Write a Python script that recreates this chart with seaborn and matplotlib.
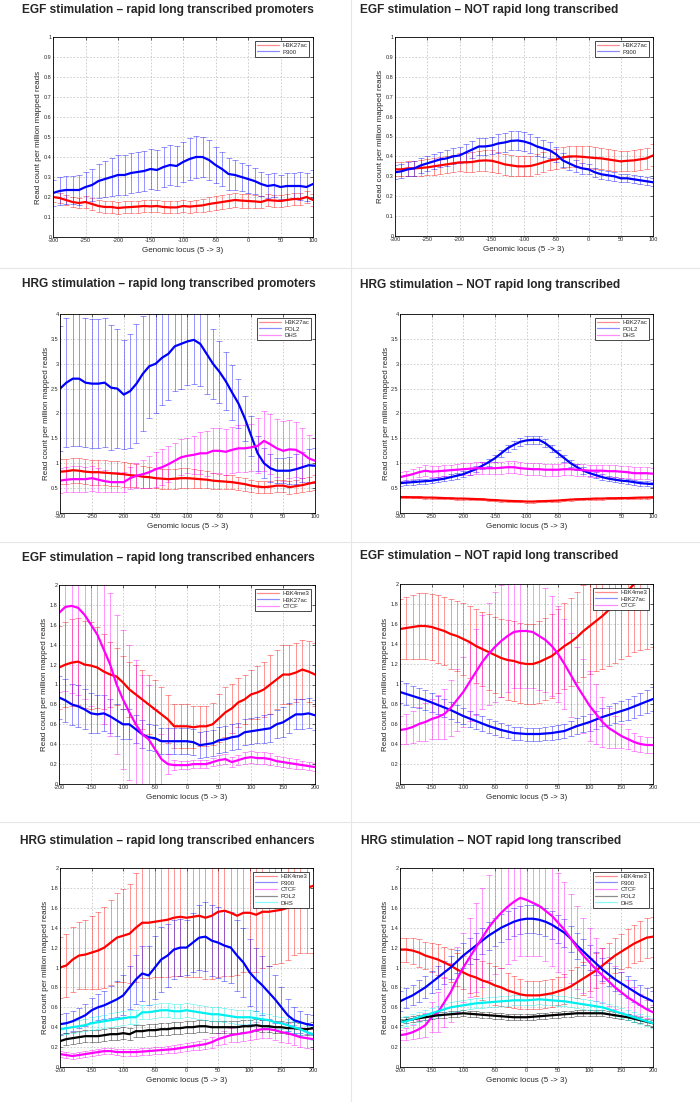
import numpy as np
import matplotlib
matplotlib.use("Agg")
import matplotlib.pyplot as plt
import seaborn as sns
from matplotlib.lines import Line2D
from matplotlib.ticker import FormatStrFormatter

sns.set_style("white")
plt.rcParams['font.family'] = ['Liberation Sans', 'DejaVu Sans']
plt.rcParams['axes.unicode_minus'] = False

# positions (bp) - promoters and enhancers
x_prom = np.arange(-300, 101, 10)
x_enh = np.arange(-200, 201, 10)

# --- EGF, rapid long transcribed promoters
p1_h3k27ac = [0.20, 0.195, 0.185, 0.175, 0.17, 0.175, 0.165, 0.155, 0.15, 0.15, 0.145, 0.148, 0.15, 0.152,
              0.155, 0.153, 0.155, 0.15, 0.148, 0.148, 0.155, 0.152, 0.155, 0.158, 0.165, 0.17, 0.175, 0.18,
              0.185, 0.182, 0.18, 0.178, 0.175, 0.185, 0.182, 0.18, 0.185, 0.19, 0.19, 0.20, 0.185]
p1_h3k27ac_err = [0.025, 0.025, 0.025, 0.025, 0.025, 0.028, 0.028, 0.028, 0.028, 0.028, 0.03, 0.03, 0.03, 0.03,
                  0.03, 0.03, 0.03, 0.03, 0.03, 0.03, 0.03, 0.03, 0.032, 0.033, 0.035, 0.035, 0.035, 0.035,
                  0.035, 0.035, 0.035, 0.033, 0.032, 0.03, 0.03, 0.03, 0.03, 0.03, 0.03, 0.03, 0.03]
p1_p300 = [0.22, 0.23, 0.235, 0.235, 0.235, 0.25, 0.26, 0.28, 0.29, 0.30, 0.31, 0.31, 0.32, 0.325,
           0.33, 0.34, 0.335, 0.35, 0.36, 0.355, 0.375, 0.39, 0.40, 0.40, 0.385, 0.36, 0.34, 0.315,
           0.31, 0.30, 0.29, 0.28, 0.265, 0.255, 0.26, 0.25, 0.255, 0.255, 0.255, 0.25, 0.265]
p1_p300_err = [0.065, 0.07, 0.07, 0.07, 0.075, 0.075, 0.08, 0.085, 0.09, 0.095, 0.1, 0.1, 0.1, 0.1,
               0.1, 0.1, 0.1, 0.1, 0.1, 0.1, 0.1, 0.105, 0.105, 0.1, 0.1, 0.09, 0.085, 0.08,
               0.075, 0.07, 0.07, 0.065, 0.06, 0.06, 0.06, 0.06, 0.065, 0.065, 0.07, 0.07, 0.07]

# --- EGF, NOT rapid long transcribed promoters
p2_h3k27ac = [0.335, 0.335, 0.34, 0.34, 0.342, 0.345, 0.35, 0.355, 0.36, 0.365, 0.37, 0.37, 0.372, 0.378,
              0.38, 0.378, 0.37, 0.36, 0.355, 0.35, 0.35, 0.352, 0.36, 0.37, 0.38, 0.385, 0.395, 0.40,
              0.40, 0.398, 0.395, 0.392, 0.39, 0.385, 0.38, 0.375, 0.378, 0.38, 0.385, 0.39, 0.405]
p2_h3k27ac_err = [0.035, 0.035, 0.036, 0.037, 0.038, 0.04, 0.041, 0.042, 0.043, 0.044, 0.045, 0.047, 0.049, 0.051,
                  0.053, 0.055, 0.054, 0.053, 0.052, 0.051, 0.05, 0.05, 0.05, 0.05, 0.05, 0.05, 0.051, 0.052,
                  0.053, 0.054, 0.055, 0.054, 0.053, 0.052, 0.051, 0.05, 0.051, 0.052, 0.053, 0.054, 0.055]
p2_p300 = [0.32, 0.325, 0.335, 0.34, 0.355, 0.365, 0.375, 0.385, 0.39, 0.40, 0.405, 0.42, 0.435, 0.45,
           0.45, 0.455, 0.465, 0.47, 0.478, 0.48, 0.475, 0.465, 0.45, 0.44, 0.43, 0.41, 0.38, 0.365,
           0.35, 0.34, 0.335, 0.32, 0.31, 0.305, 0.30, 0.29, 0.29, 0.285, 0.28, 0.275, 0.27]
p2_p300_err = [0.035, 0.035, 0.036, 0.036, 0.037, 0.038, 0.038, 0.039, 0.04, 0.04, 0.04, 0.041, 0.042, 0.043,
               0.044, 0.045, 0.046, 0.047, 0.048, 0.05, 0.05, 0.048, 0.046, 0.044, 0.04, 0.037, 0.035, 0.032,
               0.03, 0.028, 0.025, 0.024, 0.023, 0.022, 0.022, 0.021, 0.021, 0.02, 0.02, 0.02, 0.02]

# --- HRG, rapid long transcribed promoters
p3_h3k27ac = [0.83, 0.84, 0.86, 0.85, 0.83, 0.82, 0.82, 0.81, 0.80, 0.79, 0.78, 0.76, 0.75, 0.73,
              0.72, 0.70, 0.69, 0.68, 0.69, 0.70, 0.70, 0.69, 0.68, 0.67, 0.65, 0.64, 0.63, 0.62,
              0.60, 0.58, 0.55, 0.53, 0.52, 0.53, 0.55, 0.55, 0.52, 0.54, 0.56, 0.59, 0.62]
p3_h3k27ac_err = [0.25, 0.25, 0.25, 0.25, 0.25, 0.25, 0.25, 0.25, 0.25, 0.25, 0.25, 0.24, 0.23, 0.22,
                  0.21, 0.20, 0.20, 0.20, 0.20, 0.20, 0.20, 0.19, 0.18, 0.17, 0.16, 0.15, 0.14, 0.14,
                  0.13, 0.13, 0.12, 0.12, 0.12, 0.12, 0.12, 0.12, 0.13, 0.13, 0.14, 0.14, 0.15]
p3_pol2 = [2.50, 2.62, 2.70, 2.70, 2.62, 2.60, 2.60, 2.62, 2.52, 2.50, 2.38, 2.45, 2.60, 2.80,
           2.95, 3.00, 3.12, 3.20, 3.35, 3.40, 3.45, 3.48, 3.40, 3.20, 3.00, 2.84, 2.65, 2.42,
           2.20, 1.90, 1.55, 1.20, 1.00, 0.90, 0.85, 0.85, 0.85, 0.88, 0.92, 0.96, 0.95]
p3_pol2_err = [1.25, 1.30, 1.35, 1.35, 1.30, 1.30, 1.30, 1.30, 1.25, 1.20, 1.10, 1.15, 1.20, 1.15,
               1.05, 1.00, 0.95, 0.92, 0.90, 0.90, 0.88, 0.88, 0.85, 0.80, 0.70, 0.62, 0.58, 0.55,
               0.50, 0.45, 0.40, 0.35, 0.30, 0.28, 0.25, 0.25, 0.27, 0.30, 0.30, 0.33, 0.35]
p3_dhs = [0.65, 0.67, 0.68, 0.68, 0.68, 0.70, 0.67, 0.64, 0.62, 0.62, 0.62, 0.70, 0.75, 0.78,
          0.82, 0.88, 0.92, 0.98, 1.05, 1.12, 1.15, 1.17, 1.20, 1.20, 1.25, 1.25, 1.23, 1.27,
          1.30, 1.30, 1.32, 1.35, 1.45, 1.38, 1.30, 1.25, 1.28, 1.27, 1.20, 1.10, 1.05]
p3_dhs_err = [0.25, 0.25, 0.26, 0.26, 0.25, 0.25, 0.24, 0.22, 0.20, 0.20, 0.20, 0.22, 0.25, 0.28,
              0.32, 0.35, 0.36, 0.36, 0.36, 0.36, 0.35, 0.38, 0.42, 0.45, 0.45, 0.45, 0.46, 0.46,
              0.47, 0.47, 0.47, 0.55, 0.60, 0.60, 0.58, 0.60, 0.58, 0.55, 0.50, 0.47, 0.45]

# --- HRG, NOT rapid long transcribed promoters
p4_h3k27ac = [0.32, 0.32, 0.315, 0.315, 0.31, 0.31, 0.305, 0.30, 0.295, 0.29, 0.29, 0.285, 0.28, 0.275,
              0.265, 0.26, 0.25, 0.245, 0.24, 0.235, 0.23, 0.23, 0.235, 0.24, 0.245, 0.25, 0.26, 0.27,
              0.275, 0.28, 0.285, 0.29, 0.29, 0.295, 0.295, 0.30, 0.30, 0.305, 0.31, 0.31, 0.315]
p4_h3k27ac_err = [0.02] * 41
p4_pol2 = [0.60, 0.61, 0.62, 0.63, 0.64, 0.65, 0.67, 0.69, 0.72, 0.75, 0.78, 0.83, 0.88, 0.95,
           1.02, 1.10, 1.20, 1.30, 1.37, 1.43, 1.46, 1.47, 1.47, 1.40, 1.30, 1.20, 1.10, 1.00,
           0.92, 0.85, 0.80, 0.76, 0.72, 0.69, 0.67, 0.65, 0.64, 0.62, 0.60, 0.59, 0.58]
p4_pol2_err = [0.05, 0.05, 0.05, 0.05, 0.05, 0.05, 0.055, 0.055, 0.06, 0.06, 0.06, 0.065, 0.065, 0.07,
               0.07, 0.07, 0.075, 0.075, 0.08, 0.08, 0.08, 0.08, 0.08, 0.08, 0.075, 0.075, 0.07, 0.07,
               0.065, 0.065, 0.06, 0.06, 0.06, 0.055, 0.055, 0.05, 0.05, 0.05, 0.05, 0.05, 0.05]
p4_dhs = [0.72, 0.75, 0.78, 0.82, 0.85, 0.83, 0.84, 0.85, 0.86, 0.87, 0.88, 0.89, 0.90, 0.90,
          0.90, 0.90, 0.91, 0.92, 0.92, 0.90, 0.89, 0.88, 0.88, 0.87, 0.87, 0.87, 0.88, 0.88,
          0.87, 0.86, 0.85, 0.85, 0.85, 0.84, 0.84, 0.83, 0.82, 0.80, 0.80, 0.80, 0.79]
p4_dhs_err = [0.10, 0.10, 0.10, 0.10, 0.11, 0.11, 0.11, 0.11, 0.11, 0.11, 0.12, 0.12, 0.12, 0.12,
              0.12, 0.12, 0.12, 0.12, 0.12, 0.12, 0.12, 0.12, 0.12, 0.12, 0.12, 0.12, 0.12, 0.12,
              0.12, 0.12, 0.12, 0.12, 0.12, 0.12, 0.12, 0.12, 0.12, 0.12, 0.12, 0.12, 0.12]

# --- EGF, rapid long transcribed enhancers
p5_h3k4me3 = [1.17, 1.20, 1.22, 1.23, 1.20, 1.19, 1.17, 1.13, 1.10, 1.08, 1.02, 0.95, 0.90, 0.85,
              0.80, 0.75, 0.70, 0.65, 0.58, 0.58, 0.58, 0.57, 0.58, 0.58, 0.60, 0.66, 0.72, 0.76,
              0.82, 0.85, 0.90, 0.92, 0.95, 1.00, 1.05, 1.10, 1.10, 1.12, 1.15, 1.13, 1.10]
p5_h3k4me3_err = [0.42, 0.43, 0.44, 0.44, 0.44, 0.44, 0.41, 0.38, 0.33, 0.29, 0.27, 0.28, 0.30, 0.30,
                  0.30, 0.30, 0.27, 0.24, 0.22, 0.22, 0.22, 0.21, 0.20, 0.20, 0.21, 0.24, 0.25, 0.25,
                  0.25, 0.25, 0.25, 0.27, 0.28, 0.30, 0.30, 0.30, 0.30, 0.30, 0.30, 0.31, 0.32]
p5_h3k27ac = [0.87, 0.84, 0.80, 0.78, 0.75, 0.71, 0.70, 0.71, 0.68, 0.64, 0.60, 0.60, 0.55, 0.50,
              0.47, 0.46, 0.43, 0.43, 0.43, 0.43, 0.43, 0.42, 0.39, 0.40, 0.41, 0.44, 0.45, 0.47,
              0.48, 0.52, 0.53, 0.54, 0.55, 0.56, 0.60, 0.62, 0.66, 0.70, 0.70, 0.71, 0.69]
p5_h3k27ac_err = [0.22, 0.22, 0.21, 0.21, 0.20, 0.20, 0.19, 0.18, 0.17, 0.16, 0.15, 0.15, 0.14, 0.14,
                  0.13, 0.13, 0.13, 0.13, 0.13, 0.13, 0.13, 0.13, 0.13, 0.13, 0.13, 0.13, 0.13, 0.13,
                  0.13, 0.13, 0.13, 0.13, 0.14, 0.14, 0.14, 0.15, 0.15, 0.15, 0.15, 0.15, 0.15]
p5_ctcf = [1.72, 1.78, 1.79, 1.77, 1.70, 1.60, 1.50, 1.35, 1.20, 1.00, 0.85, 0.72, 0.60, 0.50,
           0.45, 0.35, 0.25, 0.20, 0.19, 0.19, 0.19, 0.20, 0.20, 0.20, 0.22, 0.24, 0.25, 0.22,
           0.24, 0.26, 0.27, 0.26, 0.26, 0.25, 0.23, 0.22, 0.21, 0.20, 0.19, 0.18, 0.17]
p5_ctcf_err = [0.80, 0.85, 0.88, 0.88, 0.85, 0.82, 0.80, 0.75, 0.72, 0.70, 0.70, 0.68, 0.65, 0.60,
               0.55, 0.40, 0.25, 0.10, 0.05, 0.04, 0.04, 0.04, 0.04, 0.04, 0.04, 0.05, 0.05, 0.05,
               0.05, 0.06, 0.06, 0.06, 0.06, 0.06, 0.05, 0.05, 0.05, 0.05, 0.04, 0.04, 0.04]

# --- EGF, NOT rapid long transcribed enhancers
p6_h3k4me3 = [1.55, 1.56, 1.57, 1.58, 1.58, 1.57, 1.55, 1.53, 1.50, 1.48, 1.45, 1.42, 1.38, 1.35,
              1.32, 1.29, 1.26, 1.24, 1.23, 1.21, 1.20, 1.20, 1.22, 1.25, 1.28, 1.33, 1.38, 1.42,
              1.47, 1.53, 1.58, 1.63, 1.68, 1.74, 1.80, 1.87, 1.93, 2.00, 2.05, 2.10, 2.15]
p6_h3k4me3_err = [0.30, 0.31, 0.32, 0.33, 0.33, 0.33, 0.34, 0.34, 0.35, 0.35, 0.36, 0.36, 0.37, 0.37,
                  0.38, 0.38, 0.39, 0.40, 0.40, 0.40, 0.40, 0.40, 0.41, 0.41, 0.42, 0.42, 0.43, 0.44,
                  0.45, 0.46, 0.48, 0.50, 0.53, 0.56, 0.59, 0.62, 0.65, 0.68, 0.71, 0.75, 0.78]
p6_h3k27ac = [0.92, 0.90, 0.88, 0.86, 0.84, 0.815, 0.79, 0.765, 0.74, 0.71, 0.68, 0.655, 0.63, 0.605,
              0.58, 0.56, 0.54, 0.525, 0.51, 0.505, 0.50, 0.50, 0.50, 0.505, 0.51, 0.52, 0.53, 0.555,
              0.58, 0.60, 0.62, 0.645, 0.67, 0.69, 0.71, 0.73, 0.75, 0.775, 0.80, 0.825, 0.85]
p6_h3k27ac_err = [0.11, 0.11, 0.105, 0.10, 0.10, 0.095, 0.09, 0.09, 0.085, 0.085, 0.08, 0.08, 0.075, 0.075,
                  0.07, 0.07, 0.07, 0.065, 0.065, 0.065, 0.065, 0.065, 0.065, 0.065, 0.07, 0.07, 0.07, 0.075,
                  0.08, 0.08, 0.085, 0.09, 0.09, 0.095, 0.10, 0.10, 0.105, 0.11, 0.11, 0.115, 0.12]
p6_ctcf = [0.54, 0.55, 0.57, 0.60, 0.62, 0.65, 0.67, 0.70, 0.76, 0.84, 0.92, 1.02, 1.12, 1.22,
           1.30, 1.37, 1.43, 1.48, 1.52, 1.53, 1.53, 1.52, 1.48, 1.44, 1.38, 1.30, 1.20, 1.09,
           0.98, 0.88, 0.78, 0.70, 0.62, 0.56, 0.52, 0.48, 0.45, 0.42, 0.40, 0.39, 0.39]
p6_ctcf_err = [0.14, 0.15, 0.16, 0.17, 0.19, 0.20, 0.22, 0.25, 0.28, 0.31, 0.35, 0.39, 0.43, 0.47,
               0.51, 0.55, 0.56, 0.56, 0.56, 0.57, 0.57, 0.56, 0.54, 0.52, 0.50, 0.48, 0.45, 0.42,
               0.39, 0.37, 0.35, 0.30, 0.25, 0.20, 0.16, 0.12, 0.10, 0.09, 0.08, 0.08, 0.08]

# --- HRG, rapid long transcribed enhancers
p7_h3k4me3 = [1.00, 1.02, 1.08, 1.12, 1.13, 1.15, 1.17, 1.20, 1.25, 1.30, 1.32, 1.34, 1.40, 1.45,
              1.45, 1.46, 1.47, 1.48, 1.50, 1.51, 1.50, 1.51, 1.52, 1.50, 1.52, 1.56, 1.57, 1.55,
              1.52, 1.55, 1.55, 1.53, 1.56, 1.56, 1.57, 1.58, 1.60, 1.68, 1.75, 1.80, 1.82]
p7_h3k4me3_err = [0.31, 0.32, 0.33, 0.34, 0.35, 0.37, 0.39, 0.41, 0.43, 0.45, 0.47, 0.50, 0.55, 0.56,
                  0.56, 0.56, 0.57, 0.58, 0.59, 0.60, 0.60, 0.61, 0.62, 0.62, 0.64, 0.66, 0.66, 0.64,
                  0.60, 0.60, 0.60, 0.58, 0.56, 0.54, 0.53, 0.53, 0.52, 0.55, 0.60, 0.65, 0.67]
p7_p300 = [0.43, 0.44, 0.46, 0.49, 0.52, 0.57, 0.60, 0.62, 0.65, 0.68, 0.72, 0.80, 0.88, 0.94,
           0.92, 1.00, 1.08, 1.12, 1.18, 1.20, 1.20, 1.25, 1.30, 1.31, 1.27, 1.25, 1.22, 1.20,
           1.12, 1.05, 0.95, 0.88, 0.82, 0.75, 0.68, 0.60, 0.52, 0.47, 0.45, 0.43, 0.42]
p7_p300_err = [0.10, 0.10, 0.10, 0.10, 0.11, 0.12, 0.13, 0.14, 0.16, 0.18, 0.20, 0.22, 0.25, 0.28,
               0.30, 0.32, 0.33, 0.32, 0.30, 0.29, 0.28, 0.30, 0.33, 0.35, 0.36, 0.36, 0.36, 0.36,
               0.36, 0.35, 0.34, 0.32, 0.30, 0.27, 0.24, 0.20, 0.16, 0.13, 0.11, 0.10, 0.10]
p7_ctcf = [0.13, 0.12, 0.11, 0.12, 0.13, 0.14, 0.15, 0.16, 0.16, 0.15, 0.15, 0.15, 0.15, 0.155,
           0.16, 0.165, 0.17, 0.175, 0.18, 0.19, 0.20, 0.21, 0.22, 0.23, 0.25, 0.28, 0.30, 0.32,
           0.33, 0.34, 0.35, 0.37, 0.38, 0.38, 0.37, 0.35, 0.34, 0.32, 0.30, 0.29, 0.28]
p7_ctcf_err = [0.03, 0.03, 0.03, 0.03, 0.03, 0.03, 0.03, 0.03, 0.03, 0.03, 0.035, 0.035, 0.035, 0.035,
               0.035, 0.035, 0.035, 0.035, 0.04, 0.04, 0.04, 0.04, 0.045, 0.05, 0.055, 0.06, 0.065, 0.07,
               0.075, 0.08, 0.08, 0.085, 0.09, 0.09, 0.095, 0.1, 0.1, 0.1, 0.1, 0.1, 0.1]
p7_pol2 = [0.26, 0.28, 0.29, 0.30, 0.31, 0.31, 0.31, 0.32, 0.33, 0.33, 0.34, 0.33, 0.36, 0.36,
           0.37, 0.37, 0.38, 0.38, 0.39, 0.39, 0.40, 0.40, 0.41, 0.41, 0.40, 0.40, 0.40, 0.40,
           0.40, 0.41, 0.41, 0.42, 0.41, 0.41, 0.40, 0.40, 0.39, 0.39, 0.38, 0.38, 0.39]
p7_pol2_err = [0.06] * 41
p7_dhs = [0.38, 0.39, 0.40, 0.41, 0.42, 0.44, 0.45, 0.46, 0.47, 0.48, 0.49, 0.50, 0.50, 0.55,
          0.55, 0.56, 0.57, 0.57, 0.56, 0.56, 0.57, 0.56, 0.55, 0.54, 0.53, 0.53, 0.52, 0.51,
          0.50, 0.50, 0.50, 0.49, 0.48, 0.47, 0.45, 0.44, 0.42, 0.40, 0.38, 0.35, 0.33]
p7_dhs_err = [0.06, 0.06, 0.06, 0.06, 0.06, 0.065, 0.065, 0.065, 0.07, 0.07, 0.07, 0.07, 0.07, 0.07,
              0.07, 0.07, 0.07, 0.07, 0.07, 0.07, 0.07, 0.07, 0.07, 0.07, 0.07, 0.07, 0.07, 0.07,
              0.07, 0.07, 0.07, 0.07, 0.065, 0.065, 0.065, 0.06, 0.06, 0.06, 0.06, 0.06, 0.06]

# --- HRG, NOT rapid long transcribed enhancers
p8_h3k4me3 = [1.18, 1.18, 1.17, 1.15, 1.12, 1.10, 1.08, 1.05, 1.02, 0.98, 0.95, 0.92, 0.90, 0.87,
              0.85, 0.82, 0.80, 0.77, 0.75, 0.73, 0.72, 0.72, 0.72, 0.73, 0.74, 0.76, 0.78, 0.81,
              0.85, 0.89, 0.93, 0.97, 1.02, 1.07, 1.12, 1.16, 1.20, 1.24, 1.27, 1.30, 1.31]
p8_h3k4me3_err = [0.12, 0.12, 0.13, 0.14, 0.14, 0.15, 0.16, 0.16, 0.17, 0.17, 0.17, 0.18, 0.19, 0.20,
                  0.20, 0.20, 0.19, 0.17, 0.16, 0.15, 0.14, 0.14, 0.14, 0.14, 0.14, 0.14, 0.15, 0.16,
                  0.16, 0.17, 0.17, 0.18, 0.18, 0.18, 0.18, 0.18, 0.19, 0.19, 0.20, 0.20, 0.20]
p8_p300 = [0.66, 0.69, 0.72, 0.76, 0.80, 0.85, 0.90, 0.95, 1.00, 1.06, 1.12, 1.17, 1.22, 1.27,
           1.32, 1.36, 1.40, 1.43, 1.46, 1.48, 1.49, 1.49, 1.48, 1.46, 1.43, 1.39, 1.35, 1.29,
           1.22, 1.16, 1.10, 1.04, 0.98, 0.93, 0.88, 0.84, 0.80, 0.76, 0.72, 0.69, 0.66]
p8_p300_err = [0.10, 0.10, 0.10, 0.11, 0.11, 0.11, 0.12, 0.12, 0.12, 0.12, 0.13, 0.13, 0.13, 0.13,
               0.14, 0.14, 0.14, 0.14, 0.14, 0.14, 0.14, 0.14, 0.14, 0.14, 0.14, 0.14, 0.14, 0.13,
               0.13, 0.13, 0.13, 0.12, 0.12, 0.12, 0.12, 0.11, 0.11, 0.11, 0.10, 0.10, 0.10]
p8_ctcf = [0.32, 0.33, 0.35, 0.38, 0.42, 0.50, 0.55, 0.65, 0.75, 0.88, 1.00, 1.10, 1.20, 1.30,
           1.40, 1.48, 1.55, 1.61, 1.66, 1.70, 1.68, 1.65, 1.62, 1.57, 1.52, 1.45, 1.38, 1.29,
           1.20, 1.12, 1.05, 0.98, 0.92, 0.86, 0.80, 0.75, 0.70, 0.66, 0.62, 0.58, 0.55]
p8_ctcf_err = [0.05, 0.06, 0.07, 0.09, 0.12, 0.15, 0.20, 0.25, 0.30, 0.33, 0.35, 0.40, 0.45, 0.50,
               0.53, 0.55, 0.56, 0.57, 0.58, 0.58, 0.56, 0.53, 0.50, 0.50, 0.50, 0.50, 0.48, 0.45,
               0.42, 0.38, 0.35, 0.32, 0.28, 0.25, 0.22, 0.20, 0.17, 0.14, 0.11, 0.09, 0.07]
p8_pol2 = [0.45, 0.47, 0.48, 0.49, 0.50, 0.51, 0.52, 0.525, 0.53, 0.535, 0.54, 0.535, 0.53, 0.525,
           0.52, 0.515, 0.51, 0.505, 0.50, 0.50, 0.50, 0.505, 0.51, 0.515, 0.52, 0.525, 0.53, 0.535,
           0.54, 0.54, 0.54, 0.54, 0.54, 0.53, 0.52, 0.51, 0.50, 0.485, 0.47, 0.455, 0.44]
p8_pol2_err = [0.03] * 41
p8_dhs = [0.45, 0.46, 0.48, 0.50, 0.52, 0.54, 0.56, 0.58, 0.60, 0.61, 0.62, 0.63, 0.64, 0.645,
          0.65, 0.655, 0.66, 0.665, 0.67, 0.67, 0.67, 0.675, 0.68, 0.675, 0.67, 0.665, 0.66, 0.65,
          0.64, 0.63, 0.62, 0.61, 0.60, 0.58, 0.56, 0.54, 0.52, 0.50, 0.48, 0.46, 0.44]
p8_dhs_err = [0.05] * 41

RED, BLUE, MAG, BLK, CYN = "#ff0000", "#0000ff", "#ff00ff", "#000000", "#00f0f0"

W, H = 700, 1102
fig = plt.figure(figsize=(W / 100, H / 100), dpi=100)
fig.patch.set_facecolor("white")


def px_axes(left, top, right, bottom):
    return fig.add_axes([left / W, 1 - bottom / H, (right - left) / W, (bottom - top) / H])


def draw_panel(rect, title, tpos, x, series, ymax, ystep, xstep):
    ax = px_axes(*rect)
    # pale error bars first, then the mean profiles on top
    for name, mean, err, col in series:
        ax.errorbar(x, mean, yerr=err, fmt="none", ecolor=col, alpha=0.42,
                    elinewidth=0.7, capsize=2.2, capthick=0.7)
    for name, mean, err, col in series:
        sns.lineplot(x=x, y=mean, ax=ax, color=col, linewidth=1.6)
    ax.set_xlim(x[0], x[-1])
    ax.set_ylim(0, ymax)
    ax.set_xticks(np.arange(x[0], x[-1] + 1, xstep))
    ax.set_yticks(np.arange(0, ymax + ystep / 2, ystep))
    ax.yaxis.set_major_formatter(FormatStrFormatter("%g"))
    ax.grid(True, linestyle=(0, (2, 2)), color="#c8c8c8", linewidth=0.6)
    ax.tick_params(labelsize=4.0, direction="in", length=2, width=0.5, pad=1.0,
                   top=True, right=True)
    for s in ax.spines.values():
        s.set_color("black")
        s.set_linewidth(0.6)
    ax.set_xlabel("Genomic locus (5 -> 3)", fontsize=5.8, labelpad=2.5)
    ax.set_ylabel("Read count per million mapped reads", fontsize=5.8, labelpad=1.0)
    handles = [Line2D([], [], color=col, alpha=0.45, lw=0.9) for _, _, _, col in series]
    leg = ax.legend(handles, [s[0] for s in series], loc="upper right", fontsize=4.3,
                    frameon=True, fancybox=False, framealpha=1, edgecolor="black",
                    handlelength=3.6, handletextpad=0.6, borderpad=0.35, labelspacing=0.25,
                    borderaxespad=0.6)
    leg.get_frame().set_linewidth(0.5)
    fig.text(tpos[0] / W, 1 - tpos[1] / H, title, ha="left", va="center",
             fontsize=8.6, fontweight="bold")
    return ax


draw_panel((53, 37, 313, 237), "EGF stimulation \u2013 rapid long transcribed promoters", (22, 10),
           x_prom, [("H3K27ac", p1_h3k27ac, p1_h3k27ac_err, RED),
                    ("P300", p1_p300, p1_p300_err, BLUE)], 1.0, 0.1, 50)
draw_panel((395, 37, 653, 236), "EGF stimulation \u2013 NOT rapid long transcribed", (360, 10),
           x_prom, [("H3K27ac", p2_h3k27ac, p2_h3k27ac_err, RED),
                    ("P300", p2_p300, p2_p300_err, BLUE)], 1.0, 0.1, 50)
draw_panel((60, 314, 315, 513), "HRG stimulation \u2013 rapid long transcribed promoters", (22, 284),
           x_prom, [("H3K27ac", p3_h3k27ac, p3_h3k27ac_err, RED),
                    ("POL2", p3_pol2, p3_pol2_err, BLUE),
                    ("DHS", p3_dhs, p3_dhs_err, MAG)], 4.0, 0.5, 50)
draw_panel((400, 314, 653, 513), "HRG stimulation \u2013 NOT rapid long transcribed", (360, 285),
           x_prom, [("H3K27ac", p4_h3k27ac, p4_h3k27ac_err, RED),
                    ("POL2", p4_pol2, p4_pol2_err, BLUE),
                    ("DHS", p4_dhs, p4_dhs_err, MAG)], 4.0, 0.5, 50)
draw_panel((59, 585, 315, 784), "EGF stimulation \u2013 rapid long transcribed enhancers", (22, 558),
           x_enh, [("H3K4me3", p5_h3k4me3, p5_h3k4me3_err, RED),
                   ("H3K27ac", p5_h3k27ac, p5_h3k27ac_err, BLUE),
                   ("CTCF", p5_ctcf, p5_ctcf_err, MAG)], 2.0, 0.2, 50)
draw_panel((400, 584, 653, 784), "EGF stimulation \u2013 NOT rapid long transcribed", (360, 556),
           x_enh, [("H3K4me3", p6_h3k4me3, p6_h3k4me3_err, RED),
                   ("H3K27ac", p6_h3k27ac, p6_h3k27ac_err, BLUE),
                   ("CTCF", p6_ctcf, p6_ctcf_err, MAG)], 2.0, 0.2, 50)
draw_panel((60, 868, 313, 1067), "HRG stimulation \u2013 rapid long transcribed enhancers", (20, 841),
           x_enh, [("H3K4me3", p7_h3k4me3, p7_h3k4me3_err, RED),
                   ("P300", p7_p300, p7_p300_err, BLUE),
                   ("CTCF", p7_ctcf, p7_ctcf_err, MAG),
                   ("POL2", p7_pol2, p7_pol2_err, BLK),
                   ("DHS", p7_dhs, p7_dhs_err, CYN)], 2.0, 0.2, 50)
draw_panel((400, 868, 653, 1067), "HRG stimulation \u2013 NOT rapid long transcribed", (361, 841),
           x_enh, [("H3K4me3", p8_h3k4me3, p8_h3k4me3_err, RED),
                   ("P300", p8_p300, p8_p300_err, BLUE),
                   ("CTCF", p8_ctcf, p8_ctcf_err, MAG),
                   ("POL2", p8_pol2, p8_pol2_err, BLK),
                   ("DHS", p8_dhs, p8_dhs_err, CYN)], 2.0, 0.2, 50)

# thin separators between panels
for yy in (268, 542, 822):
    fig.add_artist(Line2D([0, 1], [1 - yy / H] * 2, color="#e6e6e6", lw=0.8, transform=fig.transFigure))
fig.add_artist(Line2D([351 / W] * 2, [0, 1], color="#e6e6e6", lw=0.8, transform=fig.transFigure))

fig.savefig("out.png", dpi=100, facecolor="white")
